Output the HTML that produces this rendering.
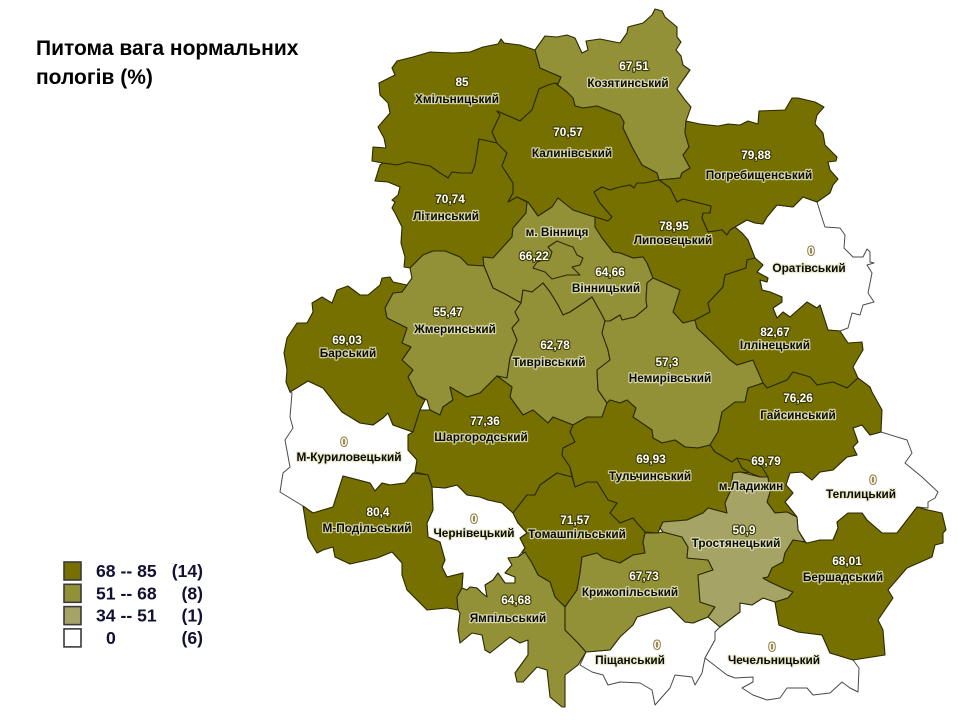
<!DOCTYPE html>
<html lang="uk">
<head>
<meta charset="utf-8">
<title>Питома вага нормальних пологів</title>
<style>
html,body{margin:0;padding:0;background:#fff;}
#map{display:block;width:960px;height:720px;font-family:"Liberation Sans","Noto Sans CJK JP",sans-serif;}
.val{font-size:11.8px;font-weight:bold;fill:#fff;stroke:#3c3a00;stroke-width:2.2px;paint-order:stroke;text-anchor:middle;stroke-linejoin:round;}
.val0{fill:#fff;stroke:#8a7a3a;stroke-width:2px;}
.nm{font-size:11.8px;font-weight:bold;fill:#0c0c00;stroke:#e6e6c8;stroke-opacity:.8;stroke-width:2.4px;paint-order:stroke;text-anchor:middle;stroke-linejoin:round;}
.title{font-size:21px;font-weight:bold;fill:#000;}
.leg{font-size:17.6px;font-weight:bold;fill:#111133;}
</style>
</head>
<body>
<svg id="map" xmlns="http://www.w3.org/2000/svg" width="960" height="720" viewBox="0 0 960 720">
<rect width="960" height="720" fill="#fff"/>
<text class="title" x="36" y="55">Питома вага нормальних</text>
<text class="title" x="36" y="84">пологів (%)</text>
<g id="regions"></g>
<g id="labels"></g>
<g id="legend"></g>
</svg>
<script>
// Data: district names and their printed values
const districts = ["М-Куриловецький","Чернівецький","Теплицький","Оратівський","Піщанський","Чечельницький","Хмільницький","Літинський","Козятинський","Калинівський","Погребищенський","Липовецький","Вінницький","Жмеринський","Барський","Тиврівський","Немирівський","Іллінецький","Гайсинський","Шаргородський","Тульчинський","Томашпільський","М-Подільський","Ямпільський","Крижопільський","Тростянецький","Бершадський","м. Вінниця","м.Ладижин"];
const values = [0,0,0,0,0,0,85,70.74,67.51,70.57,79.88,78.95,64.66,55.47,69.03,62.78,57.3,82.67,76.26,77.36,69.93,71.57,80.4,64.68,67.73,50.9,68.01,66.22,69.79];

// Legend classes
const binLabels = ["68 -- 85","51 -- 68","34 -- 51","0"];
const binMin = [68,51,34,0];
const binColors = ["#757000","#939137","#a5a465","#ffffff"];

// Geographic outlines (map geometry, not data)
const outlines = {
"М-Куриловецький":"290,392 308,381 323,388 330,397 342,412 360,423 373,425 383,418 388,413 393,425 413,432 408,435 408,450 417,460 415,472 405,483 390,485 382,483 375,491 370,483 343,476 333,507 313,513 303,506 280,492 283,473 290,467 285,440 293,428 290,417 292,393",
"Чернівецький":"432,487 445,488 457,485 467,495 480,497 488,500 502,503 513,513 518,523 527,533 520,538 525,548 518,557 508,558 512,565 505,573 515,577 515,583 505,583 498,573 493,580 485,585 487,597 482,593 477,588 470,587 467,590 462,588 463,573 447,577 442,567 445,560 440,542 428,537 427,523 433,510",
"Теплицький":"788,473 802,472 812,480 820,472 833,470 847,457 857,455 853,447 858,442 853,428 862,425 870,435 881,432 907,440 912,453 905,463 922,477 938,492 935,498 928,502 928,508 917,507 897,533 882,533 867,520 862,513 848,513 837,522 838,528 833,540 820,540 807,544 798,530 797,517 785,502 793,493 786,485",
"Оратівський":"735,227 747,220 755,223 763,224 767,217 777,205 793,207 803,197 817,202 822,218 825,227 840,228 845,235 844,248 853,257 863,257 867,249 870,252 870,262 874,263 867,265 872,273 868,293 874,302 863,305 860,315 852,313 848,328 840,331 828,330 820,305 817,308 807,302 790,317 783,312 777,318 773,308 782,302 782,297 770,292 762,290 760,280 767,282 768,278 757,272 763,265 755,258 748,240 742,233",
"Піщанський":"620,637 628,625 633,625 637,617 653,612 670,607 685,622 693,623 708,617 720,627 715,632 715,640 705,658 702,673 695,685 692,677 675,675 670,688 655,705 652,690 640,683 620,682 608,685 603,675 592,672 580,665 586,652 610,650",
"Чечельницький":"720,627 732,618 740,612 740,603 752,605 763,598 775,602 779,625 798,632 822,635 830,653 853,660 859,668 858,692 850,688 842,682 830,693 813,695 807,688 787,688 780,698 767,700 753,695 742,688 753,682 753,677 735,678 727,675 705,658 715,640 715,632",
"Хмільницький":"397,61 413,57 430,52 453,53 470,52 483,47 498,44 501,39 504,43 520,45 535,50 540,68 561,77 558,84 548,85 539,89 532,110 520,121 497,111 500,115 492,132 497,143 479,139 475,165 472,173 460,173 452,172 448,178 440,173 430,166 408,162 397,165 383,163 372,161 373,147 386,148 384,138 378,127 390,113 388,103 380,95 379,83 395,75 392,68",
"Літинський":"479,139 497,143 507,153 502,166 513,183 513,193 508,202 517,197 527,202 526,213 513,228 512,237 502,248 493,258 483,257 484,266 468,265 460,257 445,251 433,251 423,255 410,268 404,267 405,257 401,243 402,227 395,213 392,208 395,202 392,200 398,195 400,187 388,182 375,181 380,165 383,163 397,165 408,162 430,166 440,173 448,178 452,172 460,173 472,173 475,165",
"Козятинський":"535,50 545,36 557,37 567,35 575,38 582,53 588,50 586,41 600,39 620,43 627,33 628,27 643,23 652,15 655,9 662,11 665,17 677,27 677,37 681,42 676,50 681,56 683,65 690,70 683,80 677,89 685,100 691,107 686,121 685,133 689,147 683,155 690,168 682,173 680,178 659,180 657,173 642,165 632,147 623,128 624,122 620,115 597,106 583,108 575,106 573,98 567,92 555,83 558,84 561,77 540,68",
"Калинівський":"539,89 548,85 555,83 567,92 573,98 575,106 583,108 597,106 620,115 624,122 623,128 632,147 642,165 657,173 659,180 645,183 637,183 634,188 630,185 620,187 610,190 602,187 594,192 600,203 612,217 608,221 595,217 588,215 573,210 558,198 552,207 538,216 528,202 517,197 508,202 513,193 513,183 502,166 507,153 497,143 492,132 500,115 497,111 520,121 532,110",
"Погребищенський":"686,121 700,124 718,126 728,124 740,125 748,121 758,124 759,111 785,110 792,98 798,98 815,102 824,107 817,115 815,124 823,133 825,145 837,157 836,161 828,162 830,170 838,179 833,185 830,193 817,202 803,197 793,207 777,205 767,217 763,224 755,223 747,220 735,227 730,230 727,235 722,230 708,232 702,218 703,213 710,213 711,206 695,202 683,199 677,202 670,188 659,180 680,178 682,173 690,168 683,155 689,147 685,133",
"Липовецький":"620,187 630,185 634,188 637,183 645,183 659,180 670,188 677,202 683,199 695,202 711,206 710,213 703,213 702,218 708,232 722,230 727,235 730,230 735,227 742,233 748,240 755,258 747,260 746,268 725,275 723,287 708,303 710,312 695,320 683,323 673,312 680,290 662,282 653,278 647,263 643,257 633,258 620,253 613,252 602,238 595,227 595,217 608,221 612,217 600,203 594,192 602,187 610,190",
"Вінницький":"527,202 528,202 538,216 552,207 558,198 573,210 588,215 595,217 595,227 602,238 613,252 620,253 633,258 643,257 647,263 653,278 647,283 646,300 647,307 635,317 622,320 620,315 610,321 605,321 602,315 592,297 585,302 570,312 563,315 558,305 550,292 543,283 532,292 523,290 521,303 507,295 493,288 484,266 483,257 493,258 502,248 512,237 513,228 526,213",
"Жмеринський":"410,268 423,255 433,251 445,251 460,257 468,265 484,266 493,288 507,295 521,303 515,312 519,320 512,328 517,340 510,358 507,378 497,376 493,380 480,393 467,397 450,387 453,400 443,407 440,415 430,410 427,400 417,395 408,377 413,370 402,360 411,347 402,343 407,328 395,322 387,318 385,308 393,293 402,292 407,285 412,278",
"Барський":"407,285 393,282 390,277 382,278 380,285 368,295 360,295 348,286 337,290 332,303 322,297 312,303 313,312 307,323 297,323 287,338 284,353 287,370 286,382 290,392 308,381 323,388 330,397 342,412 360,423 373,425 383,418 388,413 393,425 413,432 420,410 425,400 417,395 408,377 413,370 402,360 411,347 402,343 407,328 395,322 387,318 385,308 393,293 402,292",
"Тиврівський":"521,303 523,290 532,292 543,283 550,292 558,305 563,315 570,312 585,302 592,297 602,315 605,321 602,333 608,350 610,360 597,370 598,390 607,403 602,417 587,417 573,425 553,417 548,423 533,410 523,415 510,397 512,387 497,376 507,378 510,358 517,340 512,328 519,320 515,312",
"Немирівський":"653,278 662,282 680,290 673,312 683,323 695,320 697,328 717,347 730,360 737,365 753,360 763,383 748,388 745,402 735,402 722,412 718,432 710,445 698,448 685,447 675,440 662,443 653,438 652,430 633,417 636,408 627,400 620,403 610,400 607,403 598,390 597,370 610,360 608,350 602,333 605,321 610,321 620,315 622,320 635,317 647,307 646,300 647,283",
"Іллінецький":"695,320 710,312 708,303 723,287 725,275 746,268 747,260 755,258 763,265 757,272 768,278 767,282 760,280 762,290 770,292 782,297 782,302 773,308 777,318 783,312 790,317 807,302 817,308 820,305 828,330 840,331 848,343 862,342 863,350 857,360 853,367 858,378 847,388 833,382 817,385 810,377 793,372 787,380 767,388 763,383 753,360 737,365 730,360 717,347 697,328",
"Гайсинський":"763,383 767,388 787,380 793,372 810,377 817,385 833,382 847,388 858,378 870,387 872,392 882,410 881,432 870,435 862,425 853,428 858,442 853,447 857,455 847,457 833,470 820,472 812,480 802,472 790,473 786,485 793,493 785,502 797,517 787,512 775,513 767,502 770,492 768,477 760,477 750,473 742,468 737,458 732,462 715,452 710,445 718,432 722,412 735,402 745,402 748,388",
"Шаргородський":"420,410 430,410 440,415 443,407 453,400 450,387 467,397 480,393 493,380 497,376 512,387 510,397 523,415 533,410 548,423 553,417 573,425 570,432 575,442 563,448 562,455 570,467 572,477 557,473 540,485 535,495 527,495 513,513 502,503 488,500 480,497 467,495 457,485 445,488 432,487 428,475 415,472 417,460 408,450 408,435 413,432",
"Тульчинський":"610,400 620,403 627,400 636,408 633,417 652,430 653,438 662,443 675,440 685,447 698,448 710,445 715,452 732,462 737,458 742,468 750,473 740,472 733,473 730,492 725,503 727,513 708,508 703,513 687,520 663,522 660,528 658,533 645,532 637,523 633,518 620,523 610,513 617,503 608,500 597,482 587,482 575,487 570,467 562,455 563,448 575,442 570,432 573,425 587,417 602,417 607,403",
"Томашпільський":"513,513 527,495 535,495 540,485 557,473 572,477 575,487 587,482 597,482 608,500 617,503 610,513 620,523 633,518 637,523 645,532 643,542 645,553 633,555 620,563 620,565 603,558 597,553 582,557 580,573 577,590 565,607 555,597 550,582 538,575 532,563 522,552 525,548 520,538 527,533 518,523",
"М-Подільський":"343,476 370,483 375,491 382,483 390,485 405,483 413,473 428,475 432,487 433,510 427,523 428,537 440,542 445,560 442,567 447,577 463,573 462,588 457,597 458,610 447,608 427,610 407,590 402,575 402,563 392,552 377,558 350,564 335,557 333,547 323,550 317,553 308,538 303,506 313,513 333,507",
"Ямпільський":"462,588 467,590 470,587 477,588 482,593 487,597 485,585 493,580 498,573 505,583 515,583 515,577 505,573 512,565 508,558 518,557 525,552 532,563 538,575 550,582 555,597 565,607 565,630 578,643 586,652 578,665 565,675 565,707 562,707 550,697 547,670 537,667 523,682 517,682 515,673 528,655 528,640 520,643 510,637 490,653 485,650 482,635 472,633 460,643 458,630 460,613 458,610 457,597",
"Крижопільський":"582,557 597,553 603,558 620,563 633,555 645,553 643,542 645,533 658,533 663,532 682,537 688,547 687,558 708,560 713,570 698,575 700,602 715,607 708,617 693,623 685,622 670,607 653,612 637,617 633,625 620,637 610,650 586,652 578,643 565,630 565,607 577,590 580,573",
"Тростянецький":"660,528 663,522 687,520 703,513 708,508 727,513 725,503 730,492 733,473 740,472 760,477 768,477 770,492 767,502 775,513 787,512 797,517 798,530 805,542 793,540 785,553 783,562 772,568 768,577 763,578 770,582 783,588 793,592 788,598 775,602 763,598 752,605 740,603 740,612 732,618 720,627 708,617 715,607 700,602 698,575 713,570 708,560 687,558 688,547 682,537 663,532",
"Бершадський":"805,542 793,540 785,553 783,562 772,568 768,577 763,578 770,582 783,588 793,592 788,598 775,602 779,625 798,632 822,635 830,653 853,660 885,655 883,630 878,620 893,598 888,590 907,568 932,557 935,545 943,543 943,533 946,530 942,513 928,510 917,507 897,533 882,533 867,520 862,513 848,513 837,522 838,528 833,540 820,540 807,543",
"м. Вінниця":"548,247 557,241 567,245 573,247 577,255 583,258 580,265 572,267 580,275 567,275 552,279 545,272 533,268 537,262 550,258 552,252",
"м.Ладижин":"737,458 748,460 762,467 768,477 760,477 750,473 742,468"
};

// Label anchors: [value x, value y, name x, name y]
const anchors = {
"М-Куриловецький":[344,446,349,461],"Чернівецький":[474,523,474,537],"Теплицький":[873,484,861,498],"Оратівський":[811,255,809,272],"Піщанський":[657,649,630,664],"Чечельницький":[772,651,774,664],
"Хмільницький":[462,86,457,103],"Літинський":[450,203,446,220],"Козятинський":[634,70,628,87],"Калинівський":[568,136,572,157],"Погребищенський":[756,159,759,179],"Липовецький":[674,230,673,244],
"Вінницький":[610,276,606,292],"Жмеринський":[448,316,455,333],"Барський":[347,344,348,357],"Тиврівський":[555,349,549,366],"Немирівський":[667,366,670,382],"Іллінецький":[775,336,775,349],
"Гайсинський":[798,402,798,419],"Шаргородський":[485,425,481,441],"Тульчинський":[651,463,650,480],"Томашпільський":[575,524,577,538],"М-Подільський":[378,516,367,532],"Ямпільський":[516,604,508,622],
"Крижопільський":[644,580,630,596],"Тростянецький":[744,534,736,547],"Бершадський":[847,565,843,581],"м. Вінниця":[534,260,557,236],"м.Ладижин":[766,465,751,490]
};

// Legend box geometry
const legendX = 64, legendW = 17, legendH = 18, legendStep = 22.3, legendTop = 562;

const regionsG = document.getElementById('regions');
const labelsG = document.getElementById('labels');
const legendG = document.getElementById('legend');
const NS = 'http://www.w3.org/2000/svg';

function binIndex(v) {
  if (v <= 0) return 3;
  for (let i = 0; i < 3; i++) { if (v >= binMin[i]) return i; }
  return 2;
}
function printed(v) { return String(v).replace('.', ','); }

districts.forEach(function (name, i) {
  const v = values[i];
  const p = document.createElementNS(NS, 'polygon');
  p.setAttribute('points', outlines[name]);
  const b = binIndex(v);
  p.setAttribute('fill', binColors[b]);
  p.setAttribute('stroke', b === 3 ? '#4a4a4a' : '#2b2a00');
  p.setAttribute('stroke-width', b === 3 ? '1' : '1.1');
  p.setAttribute('stroke-linejoin', 'round');
  
  
  regionsG.appendChild(p);
});

districts.forEach(function (name, i) {
  const v = values[i];
  const a = anchors[name];
  const tv = document.createElementNS(NS, 'text');
  tv.setAttribute('x', a[0]);
  tv.setAttribute('y', a[1]);
  tv.setAttribute('class', v <= 0 ? 'val val0' : 'val');
  tv.textContent = printed(v);
  
  
  labelsG.appendChild(tv);
  const tn = document.createElementNS(NS, 'text');
  tn.setAttribute('x', a[2]);
  tn.setAttribute('y', a[3]);
  tn.setAttribute('class', 'nm');
  tn.textContent = name;
  
  
  labelsG.appendChild(tn);
});

binLabels.forEach(function (label, k) {
  const count = values.filter(function (v) { return binIndex(v) === k; }).length;
  const y = legendTop + k * legendStep;
  const r = document.createElementNS(NS, 'rect');
  r.setAttribute('x', legendX);
  r.setAttribute('y', y);
  r.setAttribute('width', legendW);
  r.setAttribute('height', legendH);
  r.setAttribute('fill', binColors[k]);
  r.setAttribute('stroke', '#3a3a3a');
  r.setAttribute('stroke-width', '1.6');
  
  
  legendG.appendChild(r);
  const t = document.createElementNS(NS, 'text');
  t.setAttribute('x', k === 3 ? 106 : 96);
  t.setAttribute('y', y + 15);
  t.setAttribute('class', 'leg');
  t.textContent = label;
  
  
  legendG.appendChild(t);
  const c = document.createElementNS(NS, 'text');
  c.setAttribute('x', 203);
  c.setAttribute('y', y + 15);
  c.setAttribute('class', 'leg');
  c.setAttribute('text-anchor', 'end');
  c.textContent = '(' + count + ')';
  
  
  legendG.appendChild(c);
});
</script>
</body>
</html>
